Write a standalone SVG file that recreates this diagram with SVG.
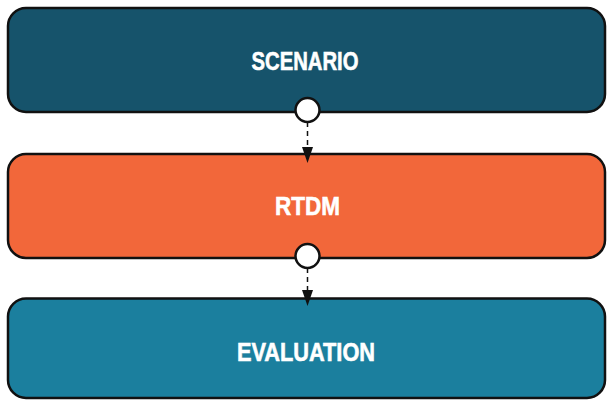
<svg xmlns="http://www.w3.org/2000/svg" width="607" height="400" viewBox="0 0 607 400">
  <style>
    .box { stroke: #111; stroke-width: 2.5; }
    .label { font-family: "Liberation Sans", Arial, sans-serif; font-weight: bold; font-size: 26px; fill: #ffffff; stroke: #ffffff; stroke-width: 0.6; text-anchor: middle; }
    .port { fill: #ffffff; stroke: #111; stroke-width: 2.5; }
    .flow { stroke: #111; stroke-width: 1.5; stroke-dasharray: 5 4; fill: none; }
    .head { fill: #111; }
  </style>

  <g id="scenario">
    <rect class="box" x="8" y="8" width="597" height="104" rx="18" fill="#16536b"/>
    <text class="label" x="305" y="70" textLength="107" lengthAdjust="spacingAndGlyphs">SCENARIO</text>
  </g>

  <g id="rtdm">
    <rect class="box" x="8" y="154" width="597" height="104" rx="18" fill="#f2673a"/>
    <text class="label" x="307.5" y="214.5" textLength="65" lengthAdjust="spacingAndGlyphs">RTDM</text>
  </g>

  <g id="evaluation">
    <rect class="box" x="8" y="298.5" width="597" height="99.5" rx="18" fill="#1b7f9e"/>
    <text class="label" x="306" y="360.5" textLength="138" lengthAdjust="spacingAndGlyphs">EVALUATION</text>
  </g>

  <g id="connectors">
    <line class="flow" x1="307.5" y1="122" x2="307.5" y2="148"/>
    <polygon class="head" points="302,147 313,147 307.5,163"/>
    <circle class="port" cx="307.5" cy="110" r="12"/>

    <line class="flow" x1="307.5" y1="268" x2="307.5" y2="291"/>
    <polygon class="head" points="302,290 313,290 307.5,306"/>
    <circle class="port" cx="307.5" cy="256" r="12"/>
  </g>
</svg>
